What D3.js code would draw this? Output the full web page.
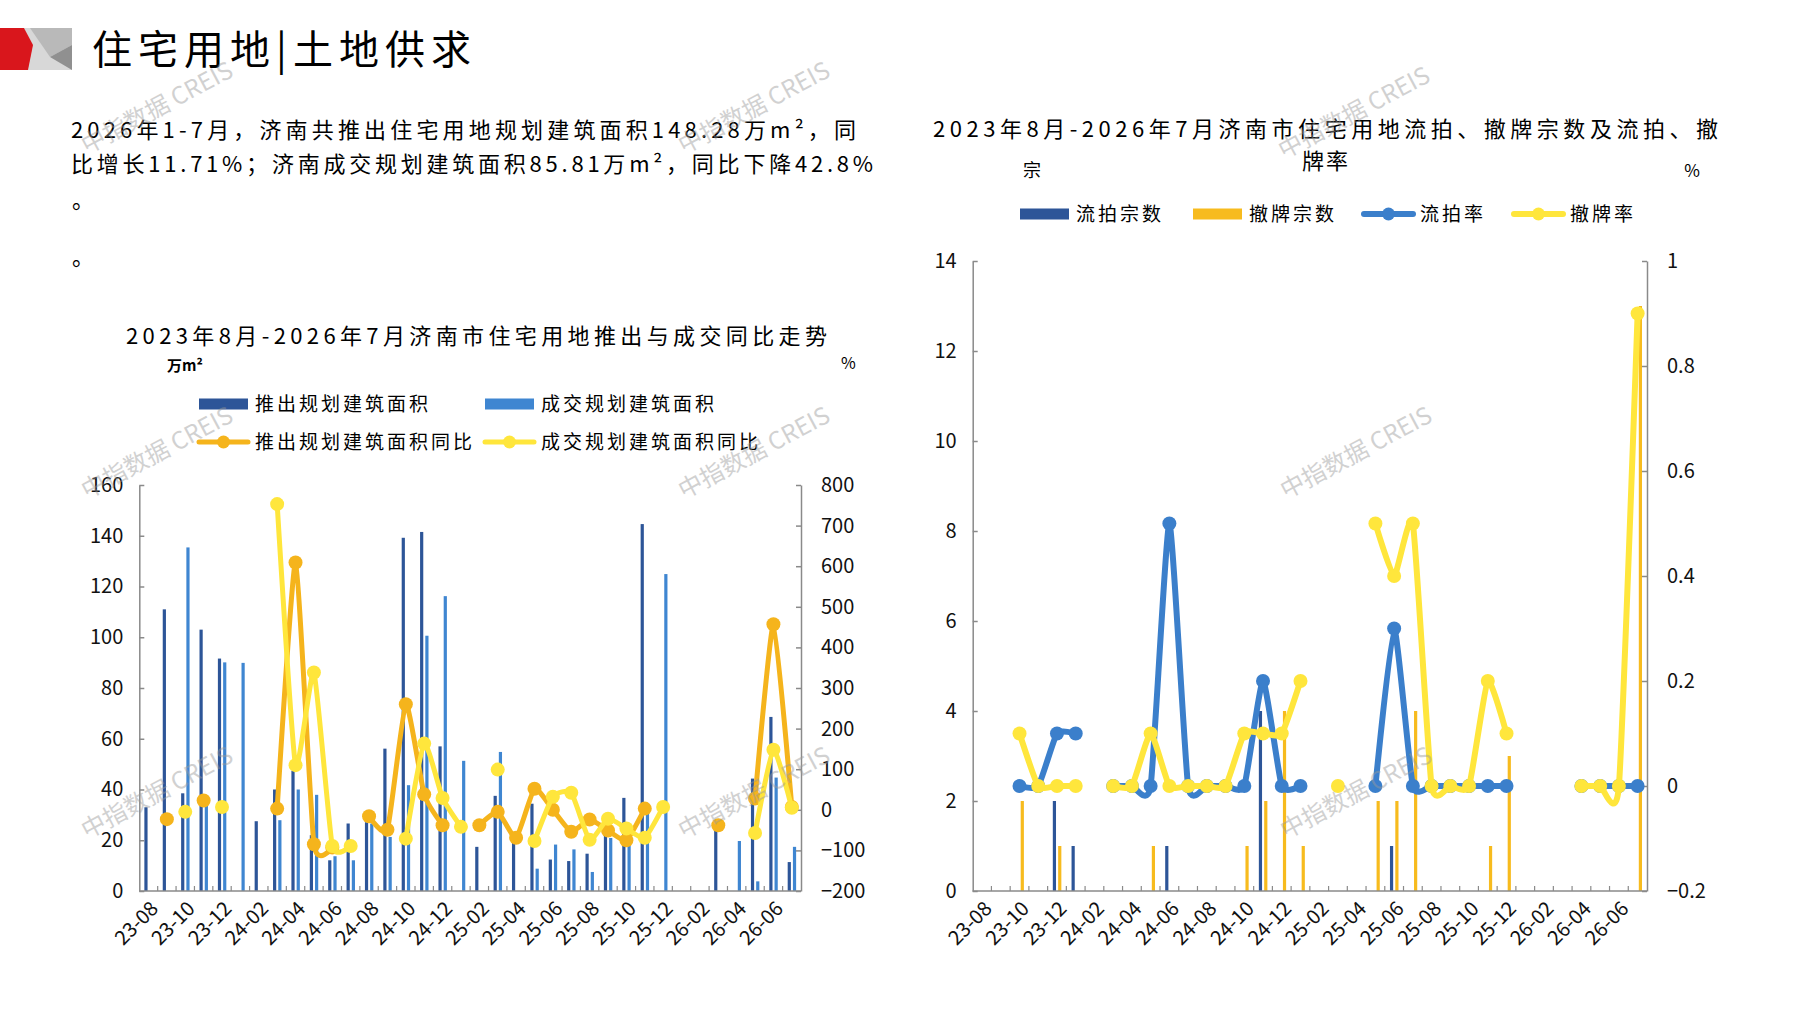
<!DOCTYPE html>
<html>
<head>
  <meta charset="utf-8" />
  <title>住宅用地|土地供求</title>
  <script src="https://d3js.org/d3.v7.min.js"></script>
  <style>
    body { margin: 0; background: #fff; }
    svg text { font-family: "Noto Sans CJK SC", sans-serif; }
  </style>
</head>
<body>
  <svg id="chart" width="1797" height="1010"></svg>

  <script>
    // 月份（类目）
    const months = [
      "23-08", "23-09", "23-10", "23-11", "23-12", "24-01", "24-02", "24-03", "24-04",
      "24-05", "24-06", "24-07", "24-08", "24-09", "24-10", "24-11", "24-12", "25-01",
      "25-02", "25-03", "25-04", "25-05", "25-06", "25-07", "25-08", "25-09", "25-10",
      "25-11", "25-12", "26-01", "26-02", "26-03", "26-04", "26-05", "26-06", "26-07"
    ];

    // 左图：推出 / 成交规划建筑面积（万㎡）
    const pushArea = [33, 111, 38.5, 103, 91.6, 0, 27.5, 40, 47.4, 22, 12.1, 26.6,
      27.1, 56.1, 139.2, 141.5, 57, 0, 17.4, 37.5, 19.3, 34.4, 12.4, 11.8,
      14.7, 23.3, 36.7, 144.6, 0, 0, 0, 26.6, 0, 44.3, 68.6, 11.4];
    const dealArea = [0, 0, 135.4, 35, 90.1, 89.9, 0, 27.9, 40, 37.9, 13.7, 12.1,
      26.6, 21.3, 41.7, 100.6, 116.2, 51.3, 0, 54.8, 0, 8.8, 18.3, 16.4,
      7.5, 20.9, 20, 30.5, 124.9, 0, 0, 0, 19.7, 3.8, 44.7, 17.4];
    // 同比（%）
    const pushYoY = [null, -23, null, 23, null, null, null, 3, 609, -85, -93, null,
      -16, -49, 260, 38, -38, null, -38, -5, -69, 52, 0, -54,
      -24, -51, -75, 3, null, null, null, -38, null, 28, 457, 7];
    const dealYoY = [null, null, -5, null, 7, null, null, 753, 110, 338, -89, -89,
      null, null, -71, 163, 29, -42, null, 99, null, -77, 32, 42,
      -74, -22, -46, -69, 7, null, null, null, null, -57, 148, 5];

    // 右图：流拍 / 撤牌宗数
    const failCount = [0, 0, 0, 0, 2, 1, 0, 0, 0, 0, 1, 0,
      0, 0, 0, 4, 0, 0, 0, 0, 0, 0, 1, 0,
      0, 0, 0, 0, 0, 0, 0, 0, 0, 0, 0, 0];
    const withdrawCount = [0, 0, 2, 0, 1, 0, 0, 0, 0, 1, 0, 0,
      0, 0, 1, 2, 4, 1, 0, 0, 0, 2, 2, 4,
      0, 0, 0, 1, 3, 0, 0, 0, 0, 0, 0, 13];
    // 流拍率 / 撤牌率
    const failRate = [null, null, 0, 0, 0.1, 0.1, null, 0, 0, 0, 0.5, 0,
      0, 0, 0, 0.2, 0, 0, null, null, null, 0, 0.3, 0,
      0, 0, 0, 0, 0, null, null, null, 0, 0, 0, 0];
    const withdrawRate = [null, null, 0.1, 0, 0, 0, null, 0, 0, 0.1, 0, 0,
      0, 0, 0.1, 0.1, 0.1, 0.2, null, 0, null, 0.5, 0.4, 0.5,
      0, 0, 0, 0.2, 0.1, null, null, null, 0, 0, 0, 0.9];

    // 坐标轴刻度
    const areaTicks = [0, 20, 40, 60, 80, 100, 120, 140, 160];
    const yoyTicks = [-200, -100, 0, 100, 200, 300, 400, 500, 600, 700, 800];
    const countTicks = [0, 2, 4, 6, 8, 10, 12, 14];
    const rateTicks = [-0.2, 0, 0.2, 0.4, 0.6, 0.8, 1];

    const C = {
      darkBlue: "#2d5598", lightBlue: "#3f86d1", orange: "#f5b41c", yellow: "#ffe63c",
      gold: "#f7bb1e", blue: "#3b7fcb", axis: "#8a8a8a"
    };

    const svg = d3.select("#chart");
    svg.append("rect").attr("width", 1797).attr("height", 1010).attr("fill", "#fff");

    // 页眉色块
    const head = svg.append("g");
    head.append("polygon").attr("points", "24,28 72,28 72,70 28,70").attr("fill", "#d8d8d8");
    head.append("polygon").attr("points", "30,28 72,28 72,45 50,57").attr("fill", "#b9b9b9");
    head.append("polygon").attr("points", "50,57 72,45 72,70").attr("fill", "#909090");
    head.append("polygon").attr("points", "0,28 24,28 33,45 28,70 0,70").attr("fill", "#d9161c");
    head.append("text").attr("x", 92).attr("y", 64).attr("font-size", 40)
      .attr("textLength", 379).attr("lengthAdjust", "spacing")
      .text("住宅用地|土地供求");

    // 说明文字
    const para = [
      { t: "2026年1-7月，济南共推出住宅用地规划建筑面积148.28万m²，同", y: 138, w: 785 },
      { t: "比增长11.71%；济南成交规划建筑面积85.81万m²，同比下降42.8%", y: 172, w: 802 }
    ];
    para.forEach(p => {
      svg.append("text").attr("x", 71).attr("y", p.y).attr("font-size", 22)
        .attr("textLength", p.w).attr("lengthAdjust", "spacing").text(p.t);
    });
    svg.append("text").attr("x", 72).attr("y", 208).attr("font-size", 22).text("。");
    svg.append("text").attr("x", 72).attr("y", 265).attr("font-size", 22).text("。");

    function makeChart(o) {
      const x = d3.scaleBand().domain(months).range([o.left, o.right]);
      const y = d3.scaleLinear().domain(o.yDomain).range([o.bottom, o.top]);
      const y2 = d3.scaleLinear().domain(o.y2Domain).range([o.bottom, o.top]);
      const bw = x.bandwidth();
      const sub = d3.scaleBand().domain(o.bars.map(b => b.name)).range([bw * 0.22, bw * 0.79]);
      const g = svg.append("g");

      // 柱
      o.bars.forEach(b => {
        g.append("g").selectAll("rect")
          .data(months.map((m, i) => ({ m, v: b.values[i] })).filter(d => d.v > 0))
          .join("rect")
          .attr("x", d => x(d.m) + sub(b.name) + sub.bandwidth() / 2 - 1.6)
          .attr("width", 3.2)
          .attr("y", d => y(d.v))
          .attr("height", d => y(0) - y(d.v))
          .attr("fill", b.color);
      });

      // 纵轴
      const styleAxis = sel => {
        sel.attr("font-family", "Liberation Sans, Arial, sans-serif").attr("font-size", 20);
        sel.selectAll("path, line").attr("stroke", C.axis).attr("stroke-width", 1.5);
        sel.selectAll("text").attr("fill", "#111");
      };
      g.append("g").attr("transform", `translate(${o.left},0)`)
        .call(d3.axisLeft(y).tickValues(o.yTicks).tickSize(-5).tickSizeOuter(0)
          .tickPadding(o.padL).tickFormat(o.yFmt))
        .call(styleAxis);
      g.append("g").attr("transform", `translate(${o.right},0)`)
        .call(d3.axisRight(y2).tickValues(o.y2Ticks).tickSize(-5).tickSizeOuter(0)
          .tickPadding(o.padR).tickFormat(o.y2Fmt))
        .call(styleAxis);

      // 横轴
      const xa = g.append("g").attr("transform", `translate(0,${o.bottom})`);
      xa.append("line").attr("x1", o.left).attr("x2", o.right)
        .attr("stroke", C.axis).attr("stroke-width", 1.5);
      xa.selectAll("line.tk").data(months.slice(1)).join("line").attr("class", "tk")
        .attr("x1", d => x(d)).attr("x2", d => x(d)).attr("y1", 0).attr("y2", -5)
        .attr("stroke", C.axis).attr("stroke-width", 1.2);
      xa.selectAll("text").data(months.filter((m, i) => i % 2 === 0)).join("text")
        .attr("transform", d => `translate(${x(d) + bw / 2 + 6},14) rotate(-45)`)
        .attr("dy", "0.35em").attr("text-anchor", "end")
        .attr("font-family", "Liberation Sans, Arial, sans-serif").attr("font-size", 20)
        .attr("fill", "#111").text(d => d);

      // 折线（平滑）
      o.lines.forEach(s => {
        const pts = months.map((m, i) => ({ m, v: s.values[i] }));
        const line = d3.line()
          .defined(d => d.v != null)
          .x(d => x(d.m) + bw / 2)
          .y(d => y2(d.v))
          .curve(d3.curveCardinal.tension(0.5));
        g.append("path").datum(pts).attr("d", line).attr("fill", "none")
          .attr("stroke", s.color).attr("stroke-width", s.width)
          .attr("stroke-linejoin", "round").attr("stroke-linecap", "round");
        g.append("g").selectAll("circle").data(pts.filter(d => d.v != null)).join("circle")
          .attr("cx", d => x(d.m) + bw / 2).attr("cy", d => y2(d.v))
          .attr("r", s.r).attr("fill", s.color);
      });
    }

    function legendItem(x, y, type, color, label, w) {
      const g = svg.append("g");
      if (type === "rect") {
        g.append("rect").attr("x", x).attr("y", y - 5.5).attr("width", 49).attr("height", 11).attr("fill", color);
      } else {
        g.append("line").attr("x1", x).attr("x2", x + 49).attr("y1", y).attr("y2", y)
          .attr("stroke", color).attr("stroke-width", w).attr("stroke-linecap", "round");
        g.append("circle").attr("cx", x + 24.5).attr("cy", y).attr("r", 6.5).attr("fill", color);
      }
      g.append("text").attr("x", x + 56).attr("y", y).attr("dy", "0.36em")
        .attr("font-size", 19).attr("letter-spacing", 3).text(label);
    }

    // 左图
    svg.append("text").attr("x", 126).attr("y", 344).attr("font-size", 22)
      .attr("textLength", 701).attr("lengthAdjust", "spacing")
      .text("2023年8月-2026年7月济南市住宅用地推出与成交同比走势");
    svg.append("text").attr("x", 167).attr("y", 371).attr("font-size", 15).attr("font-weight", 700).text("万m²");
    svg.append("text").attr("x", 841).attr("y", 369).attr("font-size", 16).text("%");
    legendItem(199, 404, "rect", C.darkBlue, "推出规划建筑面积");
    legendItem(485, 404, "rect", C.lightBlue, "成交规划建筑面积");
    legendItem(199, 442, "line", C.orange, "推出规划建筑面积同比", 5);
    legendItem(485, 442, "line", C.yellow, "成交规划建筑面积同比", 5);

    makeChart({
      left: 139.3, right: 801, top: 485, bottom: 891,
      yDomain: [0, 160], y2Domain: [-200, 800],
      yTicks: areaTicks, y2Ticks: yoyTicks, padL: 16, padR: 20,
      yFmt: d3.format("d"), y2Fmt: d3.format("d"),
      bars: [
        { name: "push", values: pushArea, color: C.darkBlue },
        { name: "deal", values: dealArea, color: C.lightBlue }
      ],
      lines: [
        { values: pushYoY, color: C.orange, width: 5, r: 7 },
        { values: dealYoY, color: C.yellow, width: 5, r: 7 }
      ]
    });

    // 右图
    svg.append("text").attr("x", 933).attr("y", 137).attr("font-size", 22)
      .attr("textLength", 785).attr("lengthAdjust", "spacing")
      .text("2023年8月-2026年7月济南市住宅用地流拍、撤牌宗数及流拍、撤");
    svg.append("text").attr("x", 1326).attr("y", 169).attr("font-size", 22)
      .attr("text-anchor", "middle").attr("letter-spacing", 2).text("牌率");
    svg.append("text").attr("x", 1032).attr("y", 177).attr("font-size", 18)
      .attr("text-anchor", "middle").text("宗");
    svg.append("text").attr("x", 1692).attr("y", 177).attr("font-size", 17)
      .attr("text-anchor", "middle").text("%");
    legendItem(1020, 214, "rect", C.darkBlue, "流拍宗数");
    legendItem(1193, 214, "rect", C.gold, "撤牌宗数");
    legendItem(1364, 214, "line", C.blue, "流拍率", 6);
    legendItem(1514, 214, "line", C.yellow, "撤牌率", 6);

    makeChart({
      left: 972.7, right: 1647, top: 261, bottom: 891,
      yDomain: [0, 14], y2Domain: [-0.2, 1],
      yTicks: countTicks, y2Ticks: rateTicks, padL: 16, padR: 20,
      yFmt: d3.format("d"), y2Fmt: d => Number.isInteger(d) ? d : d3.format(".1f")(d),
      bars: [
        { name: "fail", values: failCount, color: C.darkBlue },
        { name: "withdraw", values: withdrawCount, color: C.gold }
      ],
      lines: [
        { values: failRate, color: C.blue, width: 6, r: 7 },
        { values: withdrawRate, color: C.yellow, width: 6, r: 7 }
      ]
    });

    // 水印
    const marks = [[161, 115], [758, 115], [1358, 120], [161, 460], [758, 460], [1360, 460],
      [161, 800], [758, 800], [1360, 800]];
    svg.append("g").selectAll("text").data(marks).join("text")
      .attr("transform", d => `translate(${d[0]},${d[1]}) rotate(-28)`)
      .attr("text-anchor", "middle").attr("font-size", 24)
      .attr("fill", "#9a9a9a").attr("opacity", 0.45)
      .text("中指数据 CREIS");
  </script>
</body>
</html>
